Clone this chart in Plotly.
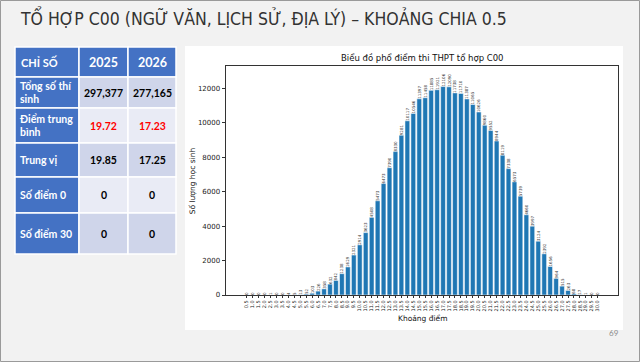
import plotly.graph_objects as go

# ---------------- data ----------------
score_labels = ["0.5", "1.0", "1.5", "2.0", "2.5", "3.0", "3.5", "4.0", "4.5", "5.0",
                "5.5", "6.0", "6.5", "7.0", "7.5", "8.0", "8.5", "9.0", "9.5", "10.0",
                "10.5", "11.0", "11.5", "12.0", "12.5", "13.0", "13.5", "14.0", "14.5", "15.0",
                "15.5", "16.0", "16.5", "17.0", "17.5", "18.0", "18.5", "19.0", "19.5", "20.0",
                "20.5", "21.0", "21.5", "22.0", "22.5", "23.0", "23.5", "24.0", "24.5", "25.0",
                "25.5", "26.0", "26.5", "27.0", "27.5", "28.0", "28.5", "29.0", "29.5", "30.0"]
counts = [0, 0, 0, 0, 1, 0, 0, 4, 5, 13, 52, 103, 226, 358, 632, 842,
          1238, 1629, 2321, 2914, 3623, 4508, 5473, 6473,
          7390, 8330, 9281, 10117, 10546, 11397, 11458, 11885, 11921, 12106, 12090,
          11738, 11710, 11387, 11065, 10626,
          9860, 9552, 8944, 8119, 7338, 6573, 5739, 4660, 3997, 3124, 2392, 1656,
          964, 515, 263, 68, 17, 1, 0, 0]
y_ticks = [0, 2000, 4000, 6000, 8000, 10000, 12000]

slide_title = "TỔ HỢP C00 (NGỮ VĂN, LỊCH SỬ, ĐỊA LÝ) – KHOẢNG CHIA 0.5"
chart_title = "Biểu đồ phổ điểm thi THPT tổ hợp C00"
x_title = "Khoảng điểm"
y_title = "Số lượng học sinh"
page_number = "69"

table_header = ["CHỈ SỐ", "2025", "2026"]
row_labels = ["Tổng số thí<br>sinh", "Điểm trung<br>bình", "Trung vị", "Số điểm 0", "Số điểm 30"]
vals_2025 = ["297,377", "19.72", "19.85", "0", "0"]
vals_2026 = ["277,165", "17.23", "17.25", "0", "0"]
highlight_row = 1

# ---------------- layout helpers ----------------
W, H = 640, 362
def fx(x):
    return x / W
def fy(y):
    return 1 - y / H

SLIDE_FONT = "Lato, Liberation Sans, sans-serif"
CHART_FONT = "DejaVu Sans, sans-serif"

fig = go.Figure()
fig.add_trace(go.Bar(
    x=score_labels, y=counts,
    width=0.8,
    marker=dict(color="#1f77b4", line=dict(color="#ffffff", width=0.5)),
    text=[str(v) for v in counts],
    textposition="outside",
    textangle=-90,
    constraintext="none",
    cliponaxis=False,
    textfont=dict(family=CHART_FONT, size=4, color="#333333"),
    hoverinfo="x+y",
))

shapes = []
annotations = []

# white chart panel
shapes.append(dict(type="rect", xref="paper", yref="paper",
                   x0=fx(185), x1=fx(623), y0=fy(330), y1=fy(46),
                   fillcolor="#ffffff", line=dict(width=0), layer="below"))

# slide border
shapes.append(dict(type="rect", xref="paper", yref="paper",
                   x0=fx(0.5), x1=fx(639.5), y0=fy(361.5), y1=fy(0.5),
                   fillcolor="rgba(0,0,0,0)", line=dict(color="#9a9a9a", width=1), layer="above"))

# ---------------- table ----------------
col_x = [15, 79, 128, 176]
row_y = [47, 77, 108, 143, 177, 213, 254]
blue = "#4472c4"
light_a = "#cfd5ea"
light_b = "#e9ebf5"

for r in range(len(row_y) - 1):
    for c in range(3):
        if r == 0 or c == 0:
            fill = blue
        else:
            fill = light_a if (r % 2 == 1) else light_b
        shapes.append(dict(type="rect", xref="paper", yref="paper",
                           x0=fx(col_x[c]), x1=fx(col_x[c + 1]),
                           y0=fy(row_y[r + 1]), y1=fy(row_y[r]),
                           fillcolor=fill, line=dict(color="#ffffff", width=1.5)))

# header
for c, txt in enumerate(table_header):
    if c == 0:
        annotations.append(dict(x=fx(19), y=fy((row_y[0] + row_y[1]) / 2), xref="paper", yref="paper",
                                text="<b>" + txt + "</b>", showarrow=False, xanchor="left", yanchor="middle",
                                font=dict(family=SLIDE_FONT, size=11, color="#ffffff")))
    else:
        annotations.append(dict(x=fx((col_x[c] + col_x[c + 1]) / 2), y=fy((row_y[0] + row_y[1]) / 2),
                                xref="paper", yref="paper",
                                text="<b>" + txt + "</b>", showarrow=False, xanchor="center", yanchor="middle",
                                font=dict(family=SLIDE_FONT, size=12.5, color="#ffffff")))

for i, lab in enumerate(row_labels):
    yc = (row_y[i + 1] + row_y[i + 2]) / 2
    lines = lab.split("<br>")
    n = len(lines)
    for k, ln in enumerate(lines):
        yl = yc + (k - (n - 1) / 2) * 13
        annotations.append(dict(x=fx(18), y=fy(yl), xref="paper", yref="paper",
                                text="<b>" + ln + "</b>", showarrow=False, xanchor="left", yanchor="middle",
                                font=dict(family=SLIDE_FONT, size=10.5, color="#ffffff")))
    for c, vals in ((1, vals_2025), (2, vals_2026)):
        col = "#ff0000" if i == highlight_row else "#000000"
        annotations.append(dict(x=fx((col_x[c] + col_x[c + 1]) / 2), y=fy(yc), xref="paper", yref="paper",
                                text="<b>" + vals[i] + "</b>", showarrow=False, xanchor="center", yanchor="middle",
                                font=dict(family=SLIDE_FONT, size=10.5, color=col)))

# slide title
annotations.append(dict(x=fx(18), y=fy(18), xref="paper", yref="paper", text=slide_title,
                        showarrow=False, xanchor="left", yanchor="middle",
                        font=dict(family="Liberation Sans Narrow, DejaVu Sans Condensed, sans-serif",
                                  size=17.5, color="#333333")))
# chart texts
annotations.append(dict(x=fx(422), y=fy(58), xref="paper", yref="paper", text=chart_title,
                        showarrow=False, xanchor="center", yanchor="middle",
                        font=dict(family=CHART_FONT, size=8.5, color="#111111")))
annotations.append(dict(x=fx(422.5), y=fy(318), xref="paper", yref="paper", text=x_title,
                        showarrow=False, xanchor="center", yanchor="middle",
                        font=dict(family=CHART_FONT, size=7.5, color="#111111")))
annotations.append(dict(x=fx(192.7), y=fy(180.5), xref="paper", yref="paper", text=y_title,
                        showarrow=False, xanchor="center", yanchor="middle", textangle=-90,
                        font=dict(family=CHART_FONT, size=7.5, color="#111111")))
annotations.append(dict(x=fx(614), y=fy(333), xref="paper", yref="paper", text=page_number,
                        showarrow=False, xanchor="center", yanchor="middle",
                        font=dict(family=SLIDE_FONT, size=8, color="#8c8c8c")))

fig.update_layout(
    width=W, height=H,
    margin=dict(l=0, r=0, t=0, b=0),
    paper_bgcolor="#f2f2f2",
    plot_bgcolor="#ffffff",
    showlegend=False,
    bargap=0.2,
    shapes=shapes,
    annotations=annotations,
    xaxis=dict(
        type="category",
        domain=[fx(226), fx(618)],
        range=[-3.48, 62.4],
        tickmode="array", tickvals=score_labels, ticktext=score_labels,
        tickangle=-90,
        tickfont=dict(family=CHART_FONT, size=5, color="#222222"),
        ticks="outside", ticklen=2.5, tickwidth=0.6, tickcolor="#333333",
        showline=True, mirror=True, linecolor="#333333", linewidth=0.8,
        showgrid=False, zeroline=False, automargin=False,
    ),
    yaxis=dict(
        domain=[fy(295), fy(66)],
        range=[0, 13300],
        tickmode="array", tickvals=y_ticks, ticktext=[str(v) for v in y_ticks],
        tickfont=dict(family=CHART_FONT, size=7, color="#222222"),
        ticks="outside", ticklen=3.5, tickwidth=0.6, tickcolor="#333333",
        showline=True, mirror=True, linecolor="#333333", linewidth=0.8,
        showgrid=False, zeroline=False, automargin=False,
    ),
)

fig.write_html("out.html")
